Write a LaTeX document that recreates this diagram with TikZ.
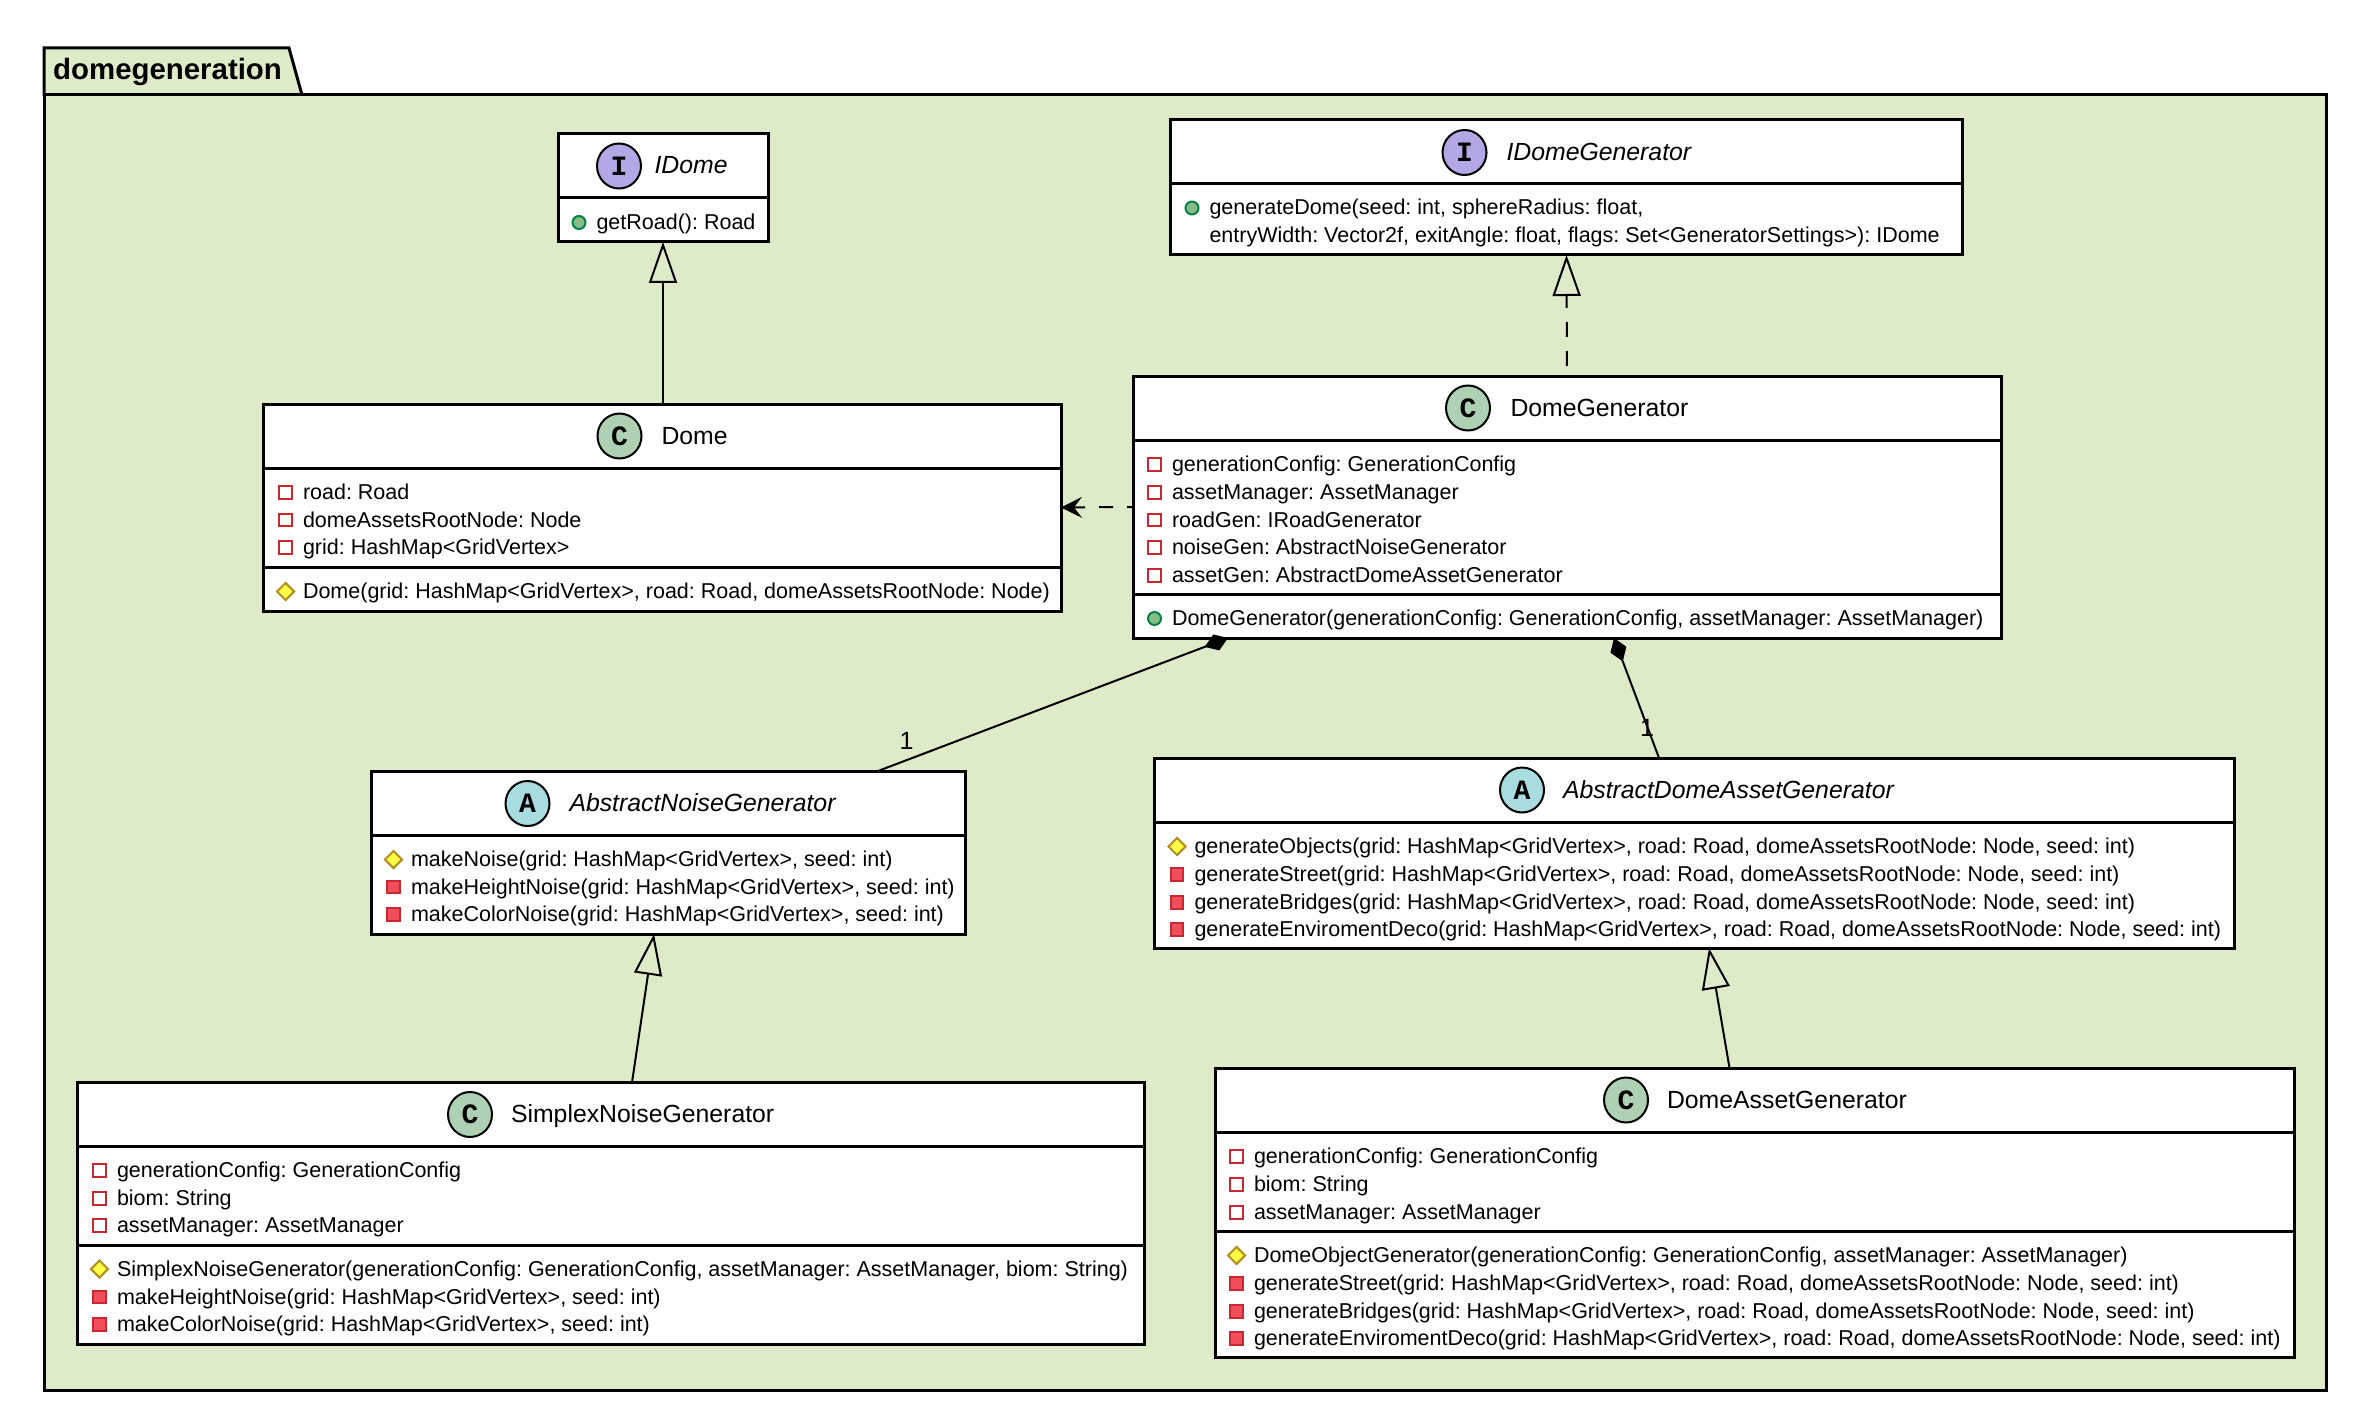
\documentclass[tikz,border=0pt]{standalone}
\usepackage{fontspec}
\setmainfont{Liberation Sans}
\newfontfamily\glyphfont{Liberation Mono}
\usetikzlibrary{arrows.meta,shapes.geometric,calc}
\definecolor{pkgbg}{HTML}{DEEBC9}
\definecolor{icongreen}{HTML}{84BE84}
\definecolor{icongreenb}{HTML}{038048}
\definecolor{iconred}{HTML}{F24D5C}
\definecolor{iconredb}{HTML}{C82930}
\definecolor{iconyellow}{HTML}{FFFF44}
\definecolor{iconyellowb}{HTML}{B38D22}
\definecolor{badgeI}{HTML}{B4A7E5}
\definecolor{badgeC}{HTML}{ADD1B2}
\definecolor{badgeA}{HTML}{A9DCDF}
\newcount\rowno
\tikzset{
  x=1pt,y=-1pt,
  classbox/.style={draw=black,fill=white,line width=3pt,inner sep=0pt,outer sep=0pt,rectangle},
  sepline/.style={draw=black,line width=3pt},
  pkgline/.style={draw=black,line width=3pt,fill=pkgbg},
  edge/.style={draw=black,line width=2pt},
  extends/.style={edge,-{Triangle[open,length=41pt,width=28pt,line width=2pt]}},
  realizes/.style={extends,dash pattern=on 15pt off 14pt,dash phase=19pt},
  usesdep/.style={edge,dash pattern=on 14pt off 14pt,dash phase=8pt,-{Stealth[length=21pt,width=21pt,inset=8pt]}},
  composes/.style={edge,{Diamond[length=25pt,width=17pt]}-},
  membertext/.style={anchor=base west,inner sep=0pt,outer sep=0pt,font=\fontsize{21.5pt}{25pt}\selectfont\frenchspacing},
  titletext/.style={anchor=base west,inner sep=0pt,outer sep=0pt,font=\fontsize{24.8pt}{29pt}\selectfont},
  multtext/.style={anchor=base,inner sep=0pt,outer sep=0pt,font=\fontsize{25pt}{30pt}\selectfont},
  pubicon/.style={circle,draw=icongreenb,fill=icongreen,line width=2pt,minimum size=13pt,inner sep=0pt},
  privopen/.style={rectangle,draw=iconredb,fill=white,line width=2pt,minimum size=12.5pt,inner sep=0pt},
  privfill/.style={rectangle,draw=iconredb,fill=iconred,line width=2pt,minimum size=12.5pt,inner sep=0pt},
  proticon/.style={diamond,aspect=1,draw=iconyellowb,fill=iconyellow,line width=2pt,minimum size=18pt,inner sep=0pt},
  badge/.style={ellipse,draw=black,line width=2pt,minimum width=44pt,minimum height=45pt,inner sep=0pt,
    font=\fontsize{28pt}{30pt}\selectfont\glyphfont\bfseries},
}
% name, x0, y0, x1, y1, header divider y
\newcommand{\classframe}[6]{%
  \node[classbox,minimum width={(#4-#2)*1pt},minimum height={(#5-#3)*1pt}] (#1) at ({(#2+#4)/2},{(#3+#5)/2}) {};
  \draw[sepline] (#2,#6) -- (#4,#6);}
% y of second divider
\newcommand{\classsep}[3]{\draw[sepline] (#1,#3) -- (#2,#3);}
% name, cx, cy, letter, colour, text x, font, title
\newcommand{\classtitle}[7]{%
  \node[badge,fill=#4] (#1b) at (#2,#3) {#5};
  \node[titletext] (#1t) at (#6,#3+8) {#7};}
% icon style, icon x, text x, centre y, text
\newcommand{\memberrow}[5]{%
  \global\advance\rowno by 1
  \node[#1] (ic\the\rowno) at (#2,#4+0.5) {};
  \node[membertext] (tx\the\rowno) at (#3,#4+7.5) {#5};}
\begin{document}
\begin{tikzpicture}
\useasboundingbox (0,0) rectangle (2368,1412);
% package
\draw[pkgline] (44,95) -- (44,48) -- (289,48) -- (302,95) -- cycle;
\node[draw=black,fill=pkgbg,line width=3pt,inner sep=0pt,outer sep=0pt,rectangle,minimum width=2282pt,minimum height=1295pt] (pkg) at (1185,742.5) {};
\node[anchor=base west,inner sep=0pt,font=\fontsize{29.4pt}{32pt}\selectfont\bfseries] (pkgname) at (53,80) {domegeneration};

% IDome
\classframe{idome}{558}{134}{768}{242}{198}
\classtitle{idome}{619}{166}{badgeI}{I}{654.5}{\itshape IDome}
\memberrow{pubicon}{579}{596.5}{222}{getRoad(): Road}

% Dome
\classframe{dome}{263}{404}{1061}{611}{468}
\classsep{263}{1061}{567}
\classtitle{dome}{619.5}{436}{badgeC}{C}{661.5}{Dome}
\memberrow{privopen}{285.5}{303}{492}{road: Road}
\memberrow{privopen}{285.5}{303}{519.5}{domeAssetsRootNode: Node}
\memberrow{privopen}{285.5}{303}{547}{grid: HashMap<GridVertex>}
\memberrow{proticon}{285.5}{303}{591}{Dome(grid: HashMap<GridVertex>, road: Road, domeAssetsRootNode: Node)}

% IDomeGenerator
\classframe{idomegen}{1170.5}{120}{1962.5}{255}{184}
\classtitle{idomegen}{1464.5}{152.5}{badgeI}{I}{1506.5}{\itshape IDomeGenerator}
\memberrow{pubicon}{1192}{1209.5}{207.5}{generateDome(seed: int, sphereRadius: float,}
\node[membertext] (idgcont) at (1209.5,242.5) {entryWidth: Vector2f, exitAngle: float, flags: Set<GeneratorSettings>): IDome};

% DomeGenerator
\classframe{domegen}{1133}{376}{2001}{638}{440}
\classsep{1133}{2001}{594}
\classtitle{domegen}{1468}{408}{badgeC}{C}{1510.5}{DomeGenerator}
\memberrow{privopen}{1154.5}{1172}{464}{generationConfig: GenerationConfig}
\memberrow{privopen}{1154.5}{1172}{492}{assetManager: AssetManager}
\memberrow{privopen}{1154.5}{1172}{519.5}{roadGen: IRoadGenerator}
\memberrow{privopen}{1154.5}{1172}{547}{noiseGen: AbstractNoiseGenerator}
\memberrow{privopen}{1154.5}{1172}{575}{assetGen: AbstractDomeAssetGenerator}
\memberrow{pubicon}{1154.5}{1172}{618}{DomeGenerator(generationConfig: GenerationConfig, assetManager: AssetManager)}

% AbstractNoiseGenerator
\classframe{noise}{371.5}{771}{965.5}{934}{835}
\classtitle{noise}{527.5}{803.5}{badgeA}{A}{569.5}{\itshape AbstractNoiseGenerator}
\memberrow{proticon}{393.5}{411}{859}{makeNoise(grid: HashMap<GridVertex>, seed: int)}
\memberrow{privfill}{393.5}{411}{886.5}{makeHeightNoise(grid: HashMap<GridVertex>, seed: int)}
\memberrow{privfill}{393.5}{411}{914}{makeColorNoise(grid: HashMap<GridVertex>, seed: int)}

% AbstractDomeAssetGenerator
\classframe{adome}{1154}{758}{2234}{948}{822}
\classtitle{adome}{1522}{790}{badgeA}{A}{1563}{\itshape AbstractDomeAssetGenerator}
\memberrow{proticon}{1177}{1194.5}{846}{generateObjects(grid: HashMap<GridVertex>, road: Road, domeAssetsRootNode: Node, seed: int)}
\memberrow{privfill}{1177}{1194.5}{874}{generateStreet(grid: HashMap<GridVertex>, road: Road, domeAssetsRootNode: Node, seed: int)}
\memberrow{privfill}{1177}{1194.5}{902}{generateBridges(grid: HashMap<GridVertex>, road: Road, domeAssetsRootNode: Node, seed: int)}
\memberrow{privfill}{1177}{1194.5}{929}{generateEnviromentDeco(grid: HashMap<GridVertex>, road: Road, domeAssetsRootNode: Node, seed: int)}

% SimplexNoiseGenerator
\classframe{simplex}{77}{1082.5}{1144}{1344}{1146}
\classsep{77}{1144}{1245}
\classtitle{simplex}{470}{1114.5}{badgeC}{C}{511}{SimplexNoiseGenerator}
\memberrow{privopen}{99.5}{117}{1170}{generationConfig: GenerationConfig}
\memberrow{privopen}{99.5}{117}{1198}{biom: String}
\memberrow{privopen}{99.5}{117}{1225}{assetManager: AssetManager}
\memberrow{proticon}{99.5}{117}{1268.5}{SimplexNoiseGenerator(generationConfig: GenerationConfig, assetManager: AssetManager, biom: String)}
\memberrow{privfill}{99.5}{117}{1296.5}{makeHeightNoise(grid: HashMap<GridVertex>, seed: int)}
\memberrow{privfill}{99.5}{117}{1324}{makeColorNoise(grid: HashMap<GridVertex>, seed: int)}

% DomeAssetGenerator
\classframe{domeasset}{1215}{1068}{2294.5}{1357}{1132}
\classsep{1215}{2294.5}{1231}
\classtitle{domeasset}{1626}{1100}{badgeC}{C}{1667}{DomeAssetGenerator}
\memberrow{privopen}{1236.5}{1254}{1156}{generationConfig: GenerationConfig}
\memberrow{privopen}{1236.5}{1254}{1184}{biom: String}
\memberrow{privopen}{1236.5}{1254}{1212}{assetManager: AssetManager}
\memberrow{proticon}{1236.5}{1254}{1255}{DomeObjectGenerator(generationConfig: GenerationConfig, assetManager: AssetManager)}
\memberrow{privfill}{1236.5}{1254}{1283}{generateStreet(grid: HashMap<GridVertex>, road: Road, domeAssetsRootNode: Node, seed: int)}
\memberrow{privfill}{1236.5}{1254}{1311}{generateBridges(grid: HashMap<GridVertex>, road: Road, domeAssetsRootNode: Node, seed: int)}
\memberrow{privfill}{1236.5}{1254}{1338}{generateEnviromentDeco(grid: HashMap<GridVertex>, road: Road, domeAssetsRootNode: Node, seed: int)}

% connectors
\draw[extends] (dome.north -| idome.south) -- (idome.south);
\draw[realizes] (domegen.north) -- (idomegen.south);
\draw[usesdep] (domegen.west) -- (dome.east);
\draw[composes] ([xshift=-339pt]domegen.south) -- ([xshift=209.5pt]noise.north);
\draw[composes] ([xshift=47pt]domegen.south) -- ([xshift=-35pt]adome.north);
\draw[extends] ([xshift=21.5pt]simplex.north) -- ([xshift=-14.5pt]noise.south);
\draw[extends] ([xshift=-25.25pt]domeasset.north) -- ([xshift=15pt]adome.south);
\node[multtext] (m1) at (906.5,749) {1};
\node[multtext] (m2) at (1647,736) {1};
\end{tikzpicture}
\end{document}
